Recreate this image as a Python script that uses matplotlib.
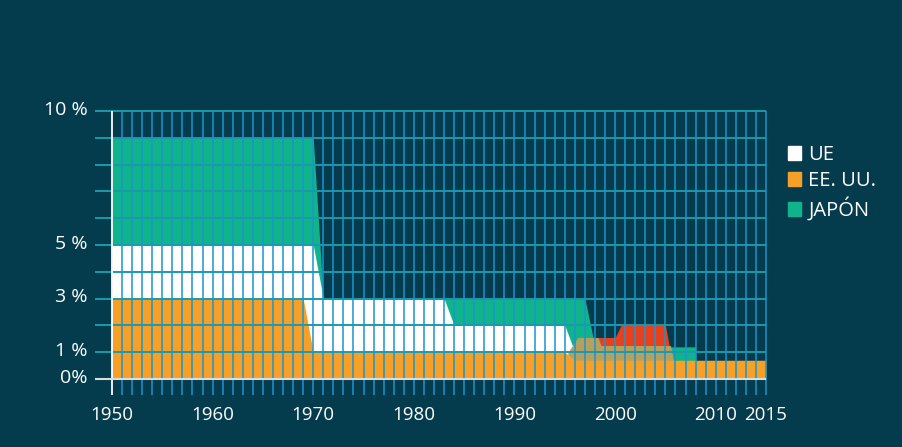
import matplotlib
matplotlib.use('Agg')
import matplotlib.pyplot as plt
from matplotlib.patches import Patch

plt.rcParams['font.family'] = ['Open Sans', 'DejaVu Sans']

# data (years, % values)
jp_years = [1950, 1970, 1971, 1997, 1998, 2008, 2008]
jp_vals = [9, 9, 3, 3, 1.2, 1.2, 0]

ue_years = [1950, 1970, 1971, 1983, 1984, 1995, 1996, 1996]
ue_vals = [5, 5, 3, 3, 2, 2, 1, 0]

us_years = [1950, 1969, 1970, 1995, 1996, 2015]
us_vals = [3, 3, 1, 1, 0.7, 0.7]

red_years = [1998.3, 2000, 2000.6, 2005, 2005.5]
red_vals = [1.55, 1.55, 2.0, 2.0, 1.0]

olive_years = [1995.3, 1996.3, 1998.3, 1998.6, 2005.5, 2005.8]
olive_vals = [1.0, 1.55, 1.55, 1.25, 1.25, 0.7]

ytick_vals = [0, 1, 3, 5, 10]
ytick_labels = ['0%', '1 %', '3 %', '5 %', '10 %']
xtick_vals = [1950, 1960, 1970, 1980, 1990, 2000, 2010, 2015]
legend_labels = ['UE', 'EE. UU.', 'JAPÓN']

bg = '#043c4e'
c_green = '#10b48c'
c_white = '#ffffff'
c_orange = '#f7a027'
c_red = '#e8401c'
c_olive = '#b5a060'

fig = plt.figure(figsize=(9.03, 4.47), dpi=100, facecolor=bg)
ax = fig.add_axes([0, 0, 1, 1])
ax.set_facecolor(bg)
ax.set_xlim(1938.87, 2028.61)
ax.set_ylim(-2.537, 14.142)
ax.axis('off')

# overlapping areas, back to front
ax.fill_between(jp_years, 0, jp_vals, color=c_green, lw=0)
ax.fill_between(ue_years, 0, ue_vals, color=c_white, lw=0)
ax.fill_between(red_years, 0, red_vals, color=c_red, lw=0)
ax.fill_between(olive_years, 0, olive_vals, color=c_olive, lw=0)
ax.fill_between(us_years, 0, us_vals, color=c_orange, lw=0)

# grid
ax.hlines(range(1, 11), 1948.3, 2015, color='#1a9aa8', lw=1.4)
ax.vlines(range(1951, 2016), -0.6, 10, color='#1b95cc', lw=1.3, alpha=0.85)
ax.vlines(1950, -0.6, 10, color='white', lw=1.3)
ax.hlines(0, 1948.3, 2015, color='#d8dde0', lw=1.5)

for v, lab in zip(ytick_vals, ytick_labels):
    ax.text(1947.6, v + 0.05, lab, color='white', fontsize=14, ha='right', va='center')
for yr in xtick_vals:
    ax.text(yr, -1.35, str(yr), color='white', fontsize=13.5, ha='center', va='center')

handles = [Patch(color=c) for c in (c_white, c_orange, c_green)]
leg = ax.legend(handles, legend_labels, loc='upper left',
                bbox_to_anchor=(788 / 903, 1 - 145 / 447), bbox_transform=fig.transFigure,
                frameon=False, fontsize=14.5, handlelength=0.65, handleheight=0.65,
                handletextpad=0.35, labelspacing=0.3, borderpad=0, borderaxespad=0)
for t in leg.get_texts():
    t.set_color('white')

fig.savefig('out.png', dpi=100, facecolor=bg)
